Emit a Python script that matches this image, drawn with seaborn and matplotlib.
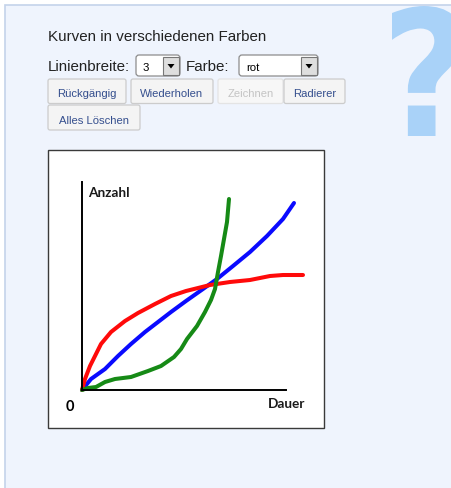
import matplotlib
matplotlib.use("Agg")
import matplotlib.pyplot as plt
import pandas as pd
import seaborn as sns
from matplotlib.patches import Rectangle, FancyBboxPatch, Polygon, PathPatch
from matplotlib.textpath import TextPath
from matplotlib.font_manager import FontProperties
from matplotlib.transforms import Affine2D

# ------------------------------------------------------------
# data: hand-drawn curves (Dauer -> Anzahl)
# ------------------------------------------------------------
blau_dauer = [0, 9, 23, 36, 49, 63, 76, 89, 104, 121, 135, 151, 168, 185, 201, 212]
blau_anzahl = [0, 11, 21, 34, 46, 58, 68, 78, 89, 101, 111, 124, 138, 154, 171, 187]

rot_dauer = [0, 3, 8, 13, 19, 29, 43, 56, 73, 89, 104, 128, 148, 168, 188, 201, 221]
rot_anzahl = [0, 11, 24, 34, 46, 58, 69, 77, 86, 94, 99, 105, 108, 110, 114, 115, 115]

gruen_dauer = [0, 6, 14, 23, 33, 49, 66, 79, 92, 99, 105, 115, 123, 129, 133, 136, 139, 142, 145, 147]
gruen_anzahl = [0, 2, 3, 8, 11, 13, 19, 24, 33, 41, 51, 64, 78, 90, 101, 118, 134, 151, 168, 191]

farben = {'blau': '#0a0aff', 'rot': '#ff0a0a', 'gruen': '#168a16'}

titel = 'Kurven in verschiedenen Farben'
knoepfe_1 = ['Rückgängig', 'Wiederholen', 'Zeichnen', 'Radierer']
knoepfe_2 = ['Alles Löschen']

df = pd.concat([
    pd.DataFrame({'dauer': blau_dauer, 'anzahl': blau_anzahl, 'farbe': 'blau'}),
    pd.DataFrame({'dauer': rot_dauer, 'anzahl': rot_anzahl, 'farbe': 'rot'}),
    pd.DataFrame({'dauer': gruen_dauer, 'anzahl': gruen_anzahl, 'farbe': 'gruen'}),
], ignore_index=True)

# ------------------------------------------------------------
# page background (pixel coordinates)
# ------------------------------------------------------------
W, H = 452, 489
fig = plt.figure(figsize=(W / 100, H / 100), dpi=100)
fig.patch.set_facecolor('white')

bg = fig.add_axes([0, 0, 1, 1])
bg.set_xlim(0, W)
bg.set_ylim(H, 0)
bg.axis('off')

bg.add_patch(Rectangle((5, 6), W, H, facecolor='#eff4fd', edgecolor='#c4d3ea', linewidth=1.2))

# big question mark
tp = TextPath((0, 0), '?', size=1, prop=FontProperties(family='DejaVu Sans', weight='bold'))
ex = tp.get_extents()
sx = 70 / ex.width
sy = 130 / ex.height
tr = Affine2D().translate(-ex.x0, -ex.y0).scale(sx, -sy).translate(392, 137)
bg.add_patch(PathPatch(tr.transform_path(tp), facecolor='#a9d2f8', edgecolor='none'))

ui_font = ['Liberation Sans', 'DejaVu Sans']
bg.text(48, 40.7, titel, fontsize=10.9, family=ui_font, color='#222222', va='baseline')
bg.text(48, 70.7, 'Linienbreite:', fontsize=10.9, family=ui_font, color='#222222', va='baseline')
bg.text(186, 70.7, 'Farbe:', fontsize=10.9, family=ui_font, color='#222222', va='baseline')


def dropdown(x0, x1, label):
    bg.add_patch(FancyBboxPatch((x0, 56), x1 - x0, 21, boxstyle='round,pad=0,rounding_size=3',
                                facecolor='white', edgecolor='#8c8c8c', linewidth=0.9))
    bg.add_patch(Rectangle((x1 - 17, 58), 16, 18, facecolor='#dedede', edgecolor='#777777', linewidth=0.8))
    cx = x1 - 9
    bg.add_patch(Polygon([(cx - 3.5, 65), (cx + 3.5, 65), (cx, 69.5)], closed=True, facecolor='black'))
    bg.text(x0 + 7, 71, label, fontsize=8.2, family=ui_font, color='black', va='baseline')


dropdown(136, 180, '3')
dropdown(239, 318, 'rot')


def knopf(x0, x1, y0, y1, label, aktiv=True):
    bg.add_patch(FancyBboxPatch((x0, y0), x1 - x0, y1 - y0, boxstyle='round,pad=0,rounding_size=2',
                                facecolor='#f4f4f4' if aktiv else '#f7f7f7',
                                edgecolor='#cccccc' if aktiv else '#e4e4e4', linewidth=0.9))
    bg.text((x0 + x1) / 2, y1 - 7.2, label, fontsize=8.1, family=ui_font,
            color='#354f8e' if aktiv else '#c4c4c4', ha='center', va='baseline')


for (x0, x1), name in zip([(48, 126), (131, 213), (218, 283), (284, 345)], knoepfe_1):
    knopf(x0, x1, 80, 104.5, name, aktiv=(name != 'Zeichnen'))
knopf(48, 140, 106, 131, knoepfe_2[0])

# white drawing canvas
bg.add_patch(Rectangle((48.5, 151), 275.5, 278, facecolor='white', edgecolor='#3a3a3a', linewidth=1.0))

label_font = ['Lato', 'DejaVu Sans']
bg.text(88, 196.7, 'Anzahl', fontsize=9.8, family=label_font, weight='bold', color='#1a1a1a', va='baseline')
bg.text(267.5, 408, 'Dauer', fontsize=9.8, family=label_font, weight='bold', color='#1a1a1a', va='baseline')
bg.text(66, 410.7, '0', fontsize=10.5, family=label_font, weight='bold', color='black', va='baseline')

# ------------------------------------------------------------
# chart axes: 1 data unit = 1 pixel
# ------------------------------------------------------------
ox, oy = 82, 391
ax = fig.add_axes([ox / W, (H - oy) / H, (286 - ox) / W, (oy - 183) / H])
ax.set_xlim(0, 286 - ox)
ax.set_ylim(0, oy - 183)
ax.patch.set_alpha(0)
for s in ['top', 'right']:
    ax.spines[s].set_visible(False)
for s in ['left', 'bottom']:
    ax.spines[s].set_color('black')
    ax.spines[s].set_linewidth(1.4)
ax.set_xticks([])
ax.set_yticks([])

sns.lineplot(data=df, x='dauer', y='anzahl', hue='farbe', palette=farben,
             hue_order=['blau', 'rot', 'gruen'], sort=False, estimator=None,
             linewidth=2.9, legend=False, ax=ax)
for line in ax.lines:
    line.set_clip_on(False)
    line.set_solid_capstyle('round')
    line.set_solid_joinstyle('round')
ax.set_xlabel('')
ax.set_ylabel('')

fig.savefig('out.png', dpi=100)
